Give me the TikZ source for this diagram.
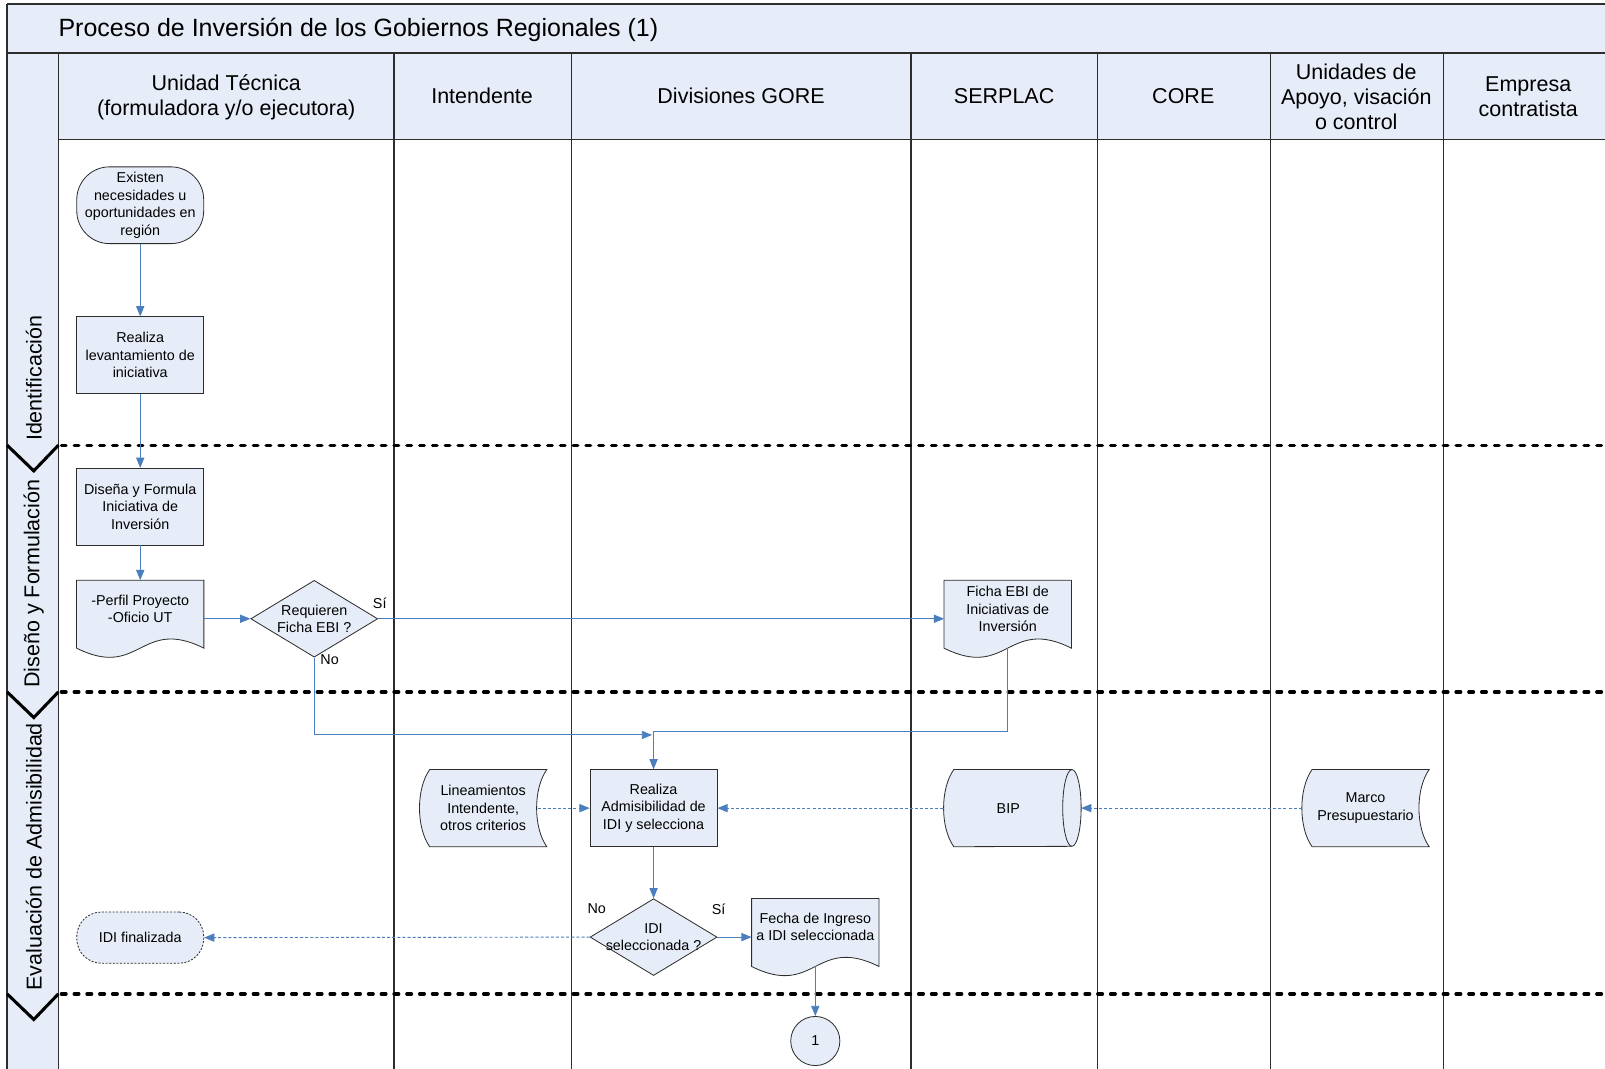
\documentclass[tikz,border=0pt]{standalone}
\usepackage{fontspec}
\setmainfont{Liberation Sans}
\usetikzlibrary{arrows.meta,calc,shapes.geometric}
\definecolor{lb}{RGB}{231,237,248}
\definecolor{cblue}{RGB}{74,126,190}
\definecolor{outl}{RGB}{45,45,45}
\pgfdeclarelayer{bg}\pgfdeclarelayer{shp}\pgfsetlayers{bg,shp,main}
\tikzset{
  every node/.style={font=\fontsize{14}{17}\selectfont, align=center, inner sep=0pt},
  shapeline/.style={draw=outl, line width=0.8pt, fill=lb},
  box/.style={shapeline, minimum width=124pt, minimum height=75pt},
  term/.style={box, rounded corners=32pt},
  termdash/.style={shapeline, minimum width=124pt, minimum height=50pt, rounded corners=24pt, dash pattern=on 2pt off 1.5pt},
  decision/.style={diamond, shapeline, minimum width=124pt, minimum height=75pt},
  holder/.style={rectangle, minimum width=124pt, minimum height=75pt},
  circ/.style={circle, shapeline, minimum size=48pt},
  conn/.style={draw=cblue, line width=0.9pt, -{Triangle[length=10pt,width=8pt]}},
  dconn/.style={conn, dash pattern=on 3pt off 2pt},
  gridln/.style={draw=outl, line width=1.3pt},
  phasediv/.style={draw=black, line width=3.3pt, line cap=round, dash pattern=on 4.5pt off 8pt},
  chev/.style={draw=black, line width=3pt},
  head/.style={font=\fontsize{21}{24.5}\selectfont},
  phase/.style={font=\fontsize{21}{24}\selectfont, rotate=90, anchor=west},
  yn/.style={font=\fontsize{14}{17}\selectfont}
}
\newcommand\mydoc[1]{\begin{pgfonlayer}{shp}
  \draw[shapeline] let \p1=(#1.north west), \p2=(#1.south east) in
   (\x1,\y1) -- (\x2,\y1) -- (\x2,{\y2+9pt})
   .. controls ({(\x1+\x2)/2},{\y2+40pt}) and ({(\x1+\x2)/2},{\y2-22pt}) .. (\x1,{\y2+9pt}) -- cycle;
  \end{pgfonlayer}}
\newcommand\mystored[1]{\begin{pgfonlayer}{shp}
  \draw[shapeline] let \p1=(#1.north west), \p2=(#1.south east) in
   ({\x1+10pt},\y1) -- (\x2,\y1)
   .. controls ({\x2-13.3pt},{\y1-18.75pt}) and ({\x2-13.3pt},{\y2+18.75pt}) .. (\x2,\y2)
   -- ({\x1+10pt},\y2)
   .. controls ({\x1-3.3pt},{\y2+18.75pt}) and ({\x1-3.3pt},{\y1-18.75pt}) .. ({\x1+10pt},\y1) -- cycle;
  \end{pgfonlayer}}
\newcommand\mydisk[1]{\begin{pgfonlayer}{shp}
  \draw[shapeline] let \p1=(#1.north west), \p2=(#1.south east) in
   ({\x1+10pt},\y1) -- ({\x2-9pt},\y1)
   arc[start angle=90, end angle=-90, x radius=9pt, y radius=37.5pt]
   -- ({\x1+10pt},\y2)
   .. controls ({\x1-3.3pt},{\y2+18.75pt}) and ({\x1-3.3pt},{\y1-18.75pt}) .. ({\x1+10pt},\y1) -- cycle;
  \draw[draw=outl, line width=0.8pt] let \p1=(#1.north west), \p2=(#1.south east) in
   ({\x2-9pt},\y1) arc[start angle=90, end angle=270, x radius=9pt, y radius=37.5pt];
  \end{pgfonlayer}}
\begin{document}
\begin{tikzpicture}[x=1pt, y=-1pt]
\useasboundingbox (0,0) rectangle (1568,1044);
\clip (0,0) rectangle (1568,1044);
% ---------- frame and lanes ----------
\begin{pgfonlayer}{bg}
  \fill[white] (0,0) rectangle (1568,1044);
  \fill[lb] (7,4) rectangle (1590,52);
  \fill[lb] (7,52) rectangle (57,1070);
  \fill[lb] (57,52) rectangle (1590,136);
  \draw[gridln] (7,4) -- (1590,4);
  \draw[gridln] (7,4) -- (7,1070);
  \draw[draw=outl, line width=2pt] (7,52) -- (1590,52);
  \draw[gridln] (57,136) -- (1590,136);
  \foreach \xx in {57,385,558,890,1072,1241,1410}
    \draw[gridln] (\xx,52) -- (\xx,1070);
  \foreach \yy in {435,676,971}{
    \draw[phasediv] (60,\yy) -- (1590,\yy);
    \draw[chev] (7,\yy) -- (33,\yy+25) -- (57,\yy);
  }
\end{pgfonlayer}
% ---------- title, headers, phases ----------
\node[anchor=west, font=\fontsize{24.4}{28}\selectfont] (title) at (57,29.5) {Proceso de Inversión de los Gobiernos Regionales (1)};
\node[head] (h1) at (221,95.5) {Unidad Técnica\\(formuladora y/o ejecutora)};
\node[head] (h2) at (471,93.5) {Intendente};
\node[head] (h3) at (724,93.5) {Divisiones GORE};
\node[head] (h4) at (981,93.5) {SERPLAC};
\node[head] (h5) at (1156,93.5) {CORE};
\node[head] (h6) at (1325,94.3) {Unidades de\\Apoyo, visación\\o control};
\node[head] (h7) at (1493,94.5) {Empresa\\contratista};
\node[phase] (p1) at (33,431) {Identificación};
\node[phase] (p2) at (33,672) {Diseño y Formulación};
\node[phase] (p3) at (33,968) {Evaluación de Admisibilidad};
% ---------- flow nodes ----------
\node[term] (n1) at (137,200.5) {Existen\\necesidades u\\oportunidades en\\región};
\node[box] (n2) at (137,347) {Realiza\\levantamiento de\\iniciativa};
\node[box] (n3) at (137,495) {Diseña y Formula\\Iniciativa de\\Inversión};
\node[holder, label={[yshift=9.5pt]center:-Perfil Proyecto\\-Oficio UT}] (n4) at (137,604.5) {};
\node[decision, label={center:Requieren\\Ficha EBI ?}] (d1) at (307,604.5) {};
\node[holder, label={[yshift=9.5pt]center:Ficha EBI de\\Iniciativas de\\Inversión}] (ficha) at (984.5,604.5) {};
\node[box] (adm) at (638.5,789.5) {Realiza\\Admisibilidad de\\IDI y selecciona};
\node[holder] (lin) at (472,789.5) {Lineamientos\\Intendente,\\otros criterios};
\node[holder, minimum width=134pt, label={[xshift=-4pt]center:BIP}] (bip) at (989,789.5) {};
\node[holder] (marco) at (1334,789.5) {Marco\\Presupuestario};
\node[decision, label={center:IDI\\seleccionada ?}] (d2) at (638.5,915.5) {};
\node[holder, label={[yshift=10pt]center:Fecha de Ingreso\\a IDI seleccionada}] (fecha) at (796.5,915.5) {};
\node[termdash] (fin) at (137,916) {IDI finalizada};
\node[circ] (c1) at (796.5,1017) {1};
\mydoc{n4}
\mydoc{ficha}
\mydoc{fecha}
\mystored{lin}
\mystored{marco}
\mydisk{bip}
% ---------- connectors ----------
\coordinate (noend) at (637,718);
\coordinate (join) at (638.5,715);
\draw[conn] (n1) -- (n2);
\draw[conn] (n2) -- (n3);
\draw[conn] (n3) -- (n4);
\draw[conn] (n4) -- (d1);
\draw[conn] (d1) -- (ficha);
\draw[conn] (d1.south) |- (noend);
\draw[conn] ([yshift=9pt]ficha.south) |- (join) -- (adm.north);
\draw[dconn] ([xshift=-9pt]lin.east) -- (adm.west);
\draw[dconn] (bip.west) -- (adm.east);
\draw[dconn] (marco.west) -- (bip.east);
\draw[conn] (adm) -- (d2);
\draw[conn] (d2) -- (fecha);
\draw[dconn] (d2.west) -- (fin.east);
\draw[conn] ([yshift=9pt]fecha.south) -- (c1.north);
% ---------- branch labels ----------
\node[yn] (s1) at (371,589) {Sí};
\node[yn] (no1) at (322,644) {No};
\node[yn] (no2) at (583,888) {No};
\node[yn] (s2) at (702,888) {Sí};
\end{tikzpicture}
\end{document}
